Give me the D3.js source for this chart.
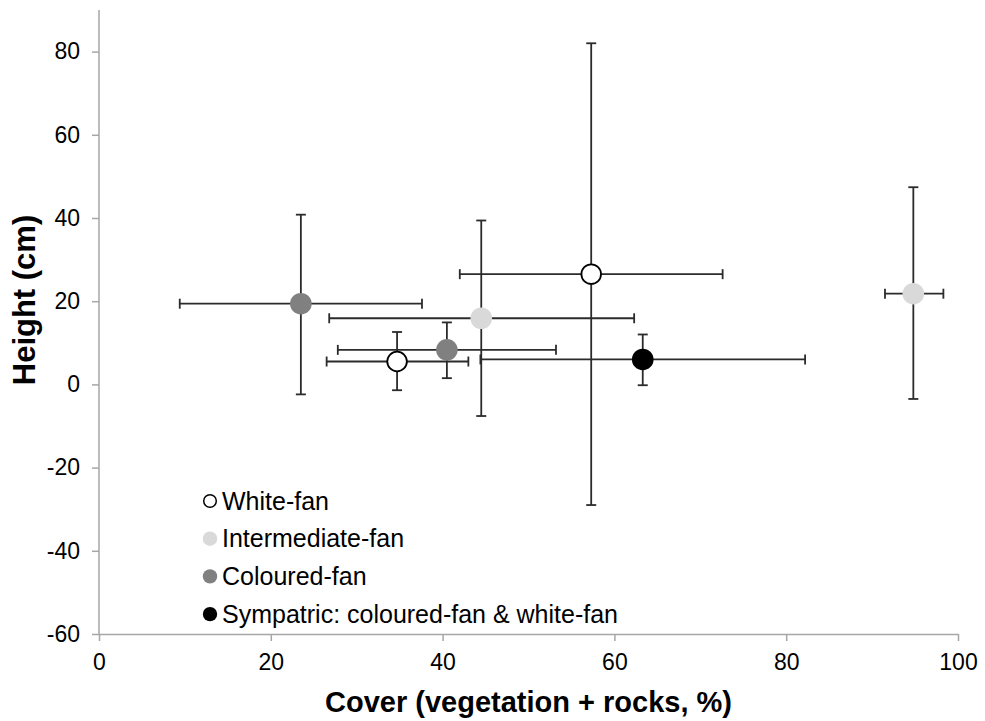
<!DOCTYPE html>
<html>
<head>
<meta charset="utf-8">
<script src="https://cdn.jsdelivr.net/npm/d3@7"></script>
<style>
  body { margin: 0; background: #fff; }
</style>
</head>
<body>
<script>
// Groups (one point each)
const groups = ["White-fan", "Intermediate-fan", "Coloured-fan", "Sympatric: coloured-fan & white-fan"];
const fills = ["#ffffff", "#d9d9d9", "#808080", "#000000"];

// points: group, cover mean, cover low/high, height mean, height low/high
const pointGroup = ["White-fan", "White-fan", "Intermediate-fan", "Intermediate-fan", "Coloured-fan", "Coloured-fan", "Sympatric: coloured-fan & white-fan"];
const coverMean = [34.7, 57.3, 44.5, 94.8, 23.5, 40.5, 63.3];
const coverLow  = [26.5, 42.0, 26.8, 91.5, 9.4, 27.8, 44.4];
const coverHigh = [43.0, 72.6, 62.3, 98.3, 37.6, 53.2, 82.2];
const heightMean = [5.5, 26.5, 15.9, 21.8, 19.4, 8.3, 6.0];
const heightLow  = [-1.4, -29.0, -7.6, -3.5, -2.4, 1.5, -0.2];
const heightHigh = [12.6, 82.0, 39.4, 47.4, 40.8, 14.9, 12.0];

const xTicks = [0, 20, 40, 60, 80, 100];
const yTicks = [-60, -40, -20, 0, 20, 40, 60, 80];

const width = 985, height = 721;
const margin = { top: 10, right: 26, bottom: 87, left: 99 };
const font = "'Liberation Sans', Arial, sans-serif";

const svg = d3.select("body").append("svg")
    .attr("width", width)
    .attr("height", height)
    .style("font-family", font);

const x = d3.scaleLinear().domain([0, 100]).range([margin.left, width - margin.right - 1]);
const y = d3.scaleLinear().domain([-60, 90]).range([height - margin.bottom, margin.top]);
const color = d3.scaleOrdinal().domain(groups).range(fills);

// axes
const xAxis = svg.append("g")
    .attr("transform", `translate(0,${y(-60)})`)
    .call(d3.axisBottom(x).tickValues(xTicks).tickFormat(d => String(d))
        .tickSize(7).tickSizeOuter(0).tickPadding(13));
const yAxis = svg.append("g")
    .attr("transform", `translate(${x(0)},0)`)
    .call(d3.axisLeft(y).tickValues(yTicks).tickFormat(d => String(d))
        .tickSize(7).tickSizeOuter(0).tickPadding(12));

[xAxis, yAxis].forEach(a => {
    a.select(".domain").attr("stroke", "#a6a6a6").attr("stroke-width", 1.5);
    a.selectAll(".tick line").attr("stroke", "#a6a6a6").attr("stroke-width", 1.5);
    a.selectAll(".tick text").attr("fill", "#000").attr("font-size", "23px")
        .attr("font-family", font);
});
// extend y axis line to the top
yAxis.select(".domain").attr("d", `M0,${y(-60)}V${y(90)}`);

// axis titles
svg.append("text")
    .attr("x", (x(0) + x(100)) / 2)
    .attr("y", 712)
    .attr("text-anchor", "middle")
    .attr("font-size", "29px")
    .attr("font-weight", "bold")
    .text("Cover (vegetation + rocks, %)");

svg.append("text")
    .attr("transform", "rotate(-90)")
    .attr("x", -300)
    .attr("y", 35)
    .attr("text-anchor", "middle")
    .attr("font-size", "31px")
    .attr("font-weight", "bold")
    .text("Height (cm)");

const data = pointGroup.map((g, i) => ({
    group: g,
    cx: coverMean[i], xl: coverLow[i], xh: coverHigh[i],
    cy: heightMean[i], yl: heightLow[i], yh: heightHigh[i]
}));

// error bars
const errColor = "#2b2b2b";
const cap = 5;
const bars = svg.append("g").attr("stroke", errColor).attr("stroke-width", 1.8).attr("fill", "none");
data.forEach(d => {
    bars.append("line").attr("x1", x(d.xl)).attr("x2", x(d.xh)).attr("y1", y(d.cy)).attr("y2", y(d.cy));
    bars.append("line").attr("x1", x(d.xl)).attr("x2", x(d.xl)).attr("y1", y(d.cy) - cap).attr("y2", y(d.cy) + cap);
    bars.append("line").attr("x1", x(d.xh)).attr("x2", x(d.xh)).attr("y1", y(d.cy) - cap).attr("y2", y(d.cy) + cap);
    bars.append("line").attr("x1", x(d.cx)).attr("x2", x(d.cx)).attr("y1", y(d.yl)).attr("y2", y(d.yh));
    bars.append("line").attr("x1", x(d.cx) - cap).attr("x2", x(d.cx) + cap).attr("y1", y(d.yl)).attr("y2", y(d.yl));
    bars.append("line").attr("x1", x(d.cx) - cap).attr("x2", x(d.cx) + cap).attr("y1", y(d.yh)).attr("y2", y(d.yh));
});

// points
svg.append("g").selectAll("circle")
    .data(data)
    .join("circle")
    .attr("cx", d => x(d.cx))
    .attr("cy", d => y(d.cy))
    .attr("r", d => d.group === "White-fan" ? 9.8 : 10.8)
    .attr("fill", d => color(d.group))
    .attr("stroke", d => d.group === "White-fan" ? "#000" : "none")
    .attr("stroke-width", 1.8);

// legend
const legend = svg.append("g").attr("transform", "translate(210,501)");
groups.forEach((g, i) => {
    const row = legend.append("g").attr("transform", `translate(0,${i * 37.7})`);
    row.append("circle")
        .attr("r", g === "White-fan" ? 6.3 : 7.2)
        .attr("fill", color(g))
        .attr("stroke", g === "White-fan" ? "#000" : "none")
        .attr("stroke-width", 1.5);
    row.append("text")
        .attr("x", 12)
        .attr("y", 8.5)
        .attr("font-size", "25px")
        .text(g);
});
</script>
</body>
</html>
